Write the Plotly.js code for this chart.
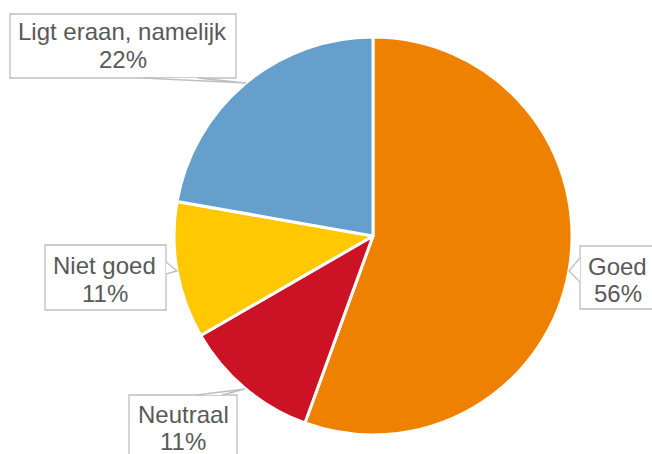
<!DOCTYPE html>
<html><head><meta charset="utf-8">
<script src="https://cdn.plot.ly/plotly-3.0.1.min.js"></script>
<style>html,body{margin:0;padding:0;background:#fff}#c{width:652px;height:454px}</style>
</head><body><div id="c"></div>
<script>
var categories = ["Goed", "Neutraal", "Niet goed", "Ligt eraan, namelijk"];
var counts = [5, 1, 1, 2];
var pctLabels = ["56%", "11%", "11%", "22%"];
var colors = ["#EE8100", "#CC1326", "#FFC800", "#659FCB"];

var W = 652, H = 454;
function px(x){return x/W;}
function py(y){return 1 - y/H;}

// label box geometry in pixels [x0,x1,y0,y1], text centre x, baselines of the two lines, pointer polygon
var boxes = [
  {b:[580,660,246,309], tx:617.5, bl:[274,301], ptr:[[580,258],[569,271],[580,282]]},
  {b:[129,237,395,470], tx:183, bl:[422,449], ptr:[[197,395],[245,389],[222,395]]},
  {b:[45,166,245,310], tx:105, bl:[273,301], ptr:[[166,262],[177,271],[166,274]]},
  {b:[10,236,14,78], tx:122.5, bl:[40,67], ptr:[[143,78],[246,83],[198,78]]}
];

var FS = 24;
var shapes = [], annotations = [];
boxes.forEach(function(o, i){
  var b = o.b;
  shapes.push({type:'rect', xref:'paper', yref:'paper', x0:px(b[0]), x1:px(b[1]), y0:py(b[3]), y1:py(b[2]),
    line:{color:'#BFBFBF', width:1.3}, fillcolor:'#FFFFFF', layer:'above'});
  var p = o.ptr;
  var path = 'M' + p.map(function(q){return px(q[0]) + ',' + py(q[1]);}).join(' L') ;
  shapes.push({type:'path', xref:'paper', yref:'paper', path: path + ' Z', line:{color:'rgba(0,0,0,0)', width:0}, fillcolor:'#FFFFFF', layer:'above'});
  shapes.push({type:'path', xref:'paper', yref:'paper', path: path, line:{color:'#BFBFBF', width:1.3}, layer:'above'});
  [categories[i], pctLabels[i]].forEach(function(t, k){
    annotations.push({xref:'paper', yref:'paper', x:px(o.tx), y:py(o.bl[k] - 8), xanchor:'center', yanchor:'middle',
      showarrow:false, align:'center', text: t,
      font:{family:'Liberation Sans, Arial, sans-serif', size:FS, color:'#595959'}});
  });
});

var cx = 373, cy = 236, r = 199;
var trace = {
  type:'pie', values:counts, labels:categories, sort:false, direction:'clockwise', rotation:0,
  marker:{colors:colors, line:{color:'#FFFFFF', width:3}},
  textinfo:'none', hoverinfo:'none', showlegend:false,
  domain:{x:[px(cx-r), px(cx+r)], y:[py(cy+r), py(cy-r)]}
};

Plotly.newPlot('c', [trace], {
  width:W, height:H, margin:{l:0,r:0,t:0,b:0}, paper_bgcolor:'#FFFFFF',
  showlegend:false, shapes:shapes, annotations:annotations
}, {staticPlot:true});
</script>
</body></html>
